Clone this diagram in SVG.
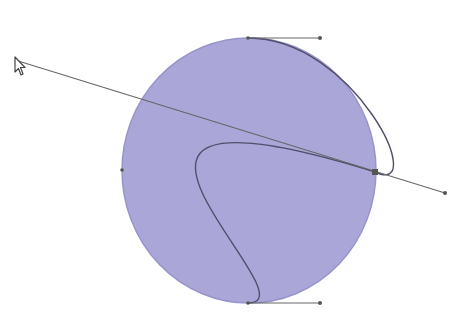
<svg xmlns="http://www.w3.org/2000/svg" width="453" height="331" viewBox="0 0 453 331">
<style>
.handle{stroke:#666;stroke-width:1.1;fill:none}
.knob{fill:#555}
.curve{stroke:#50506a;stroke-width:1.4;fill:none}
</style>
<rect width="453" height="331" fill="#fff"/>
<g id="circle">
<ellipse cx="249" cy="170.5" rx="127" ry="132.5" fill="#aaa6d8" stroke="#9894cc" stroke-width="1.5"/>
</g>
<g id="connectors">
<path class="curve" d="M248,38 C355,38 430,198 375,172 C15,60 320,303 248,303"/>
<line class="handle" x1="248" y1="38" x2="320" y2="38"/>
<line class="handle" x1="15" y1="60" x2="445" y2="193"/>
<line class="handle" x1="248" y1="303" x2="320" y2="303"/>
</g>
<g id="knobs">
<circle class="knob" cx="320" cy="38" r="2"/>
<circle class="knob" cx="445" cy="193" r="2"/>
<circle class="knob" cx="320" cy="303" r="2"/>
<rect class="knob" x="372" y="169" width="6" height="6" fill="#333"/>
<circle class="knob" cx="248" cy="38" r="1.8"/>
<circle class="knob" cx="248" cy="303" r="1.8"/>
<circle class="knob" cx="122" cy="170" r="1.8"/>
</g>
<g id="cursor">
<path d="M15,57 L15,72 L18.5,68.5 L21,75 L23,74 L20.5,67.5 L25,67.5 Z" fill="#fff" stroke="#444" stroke-width="1.2" stroke-linejoin="round"/>
</g>
</svg>
